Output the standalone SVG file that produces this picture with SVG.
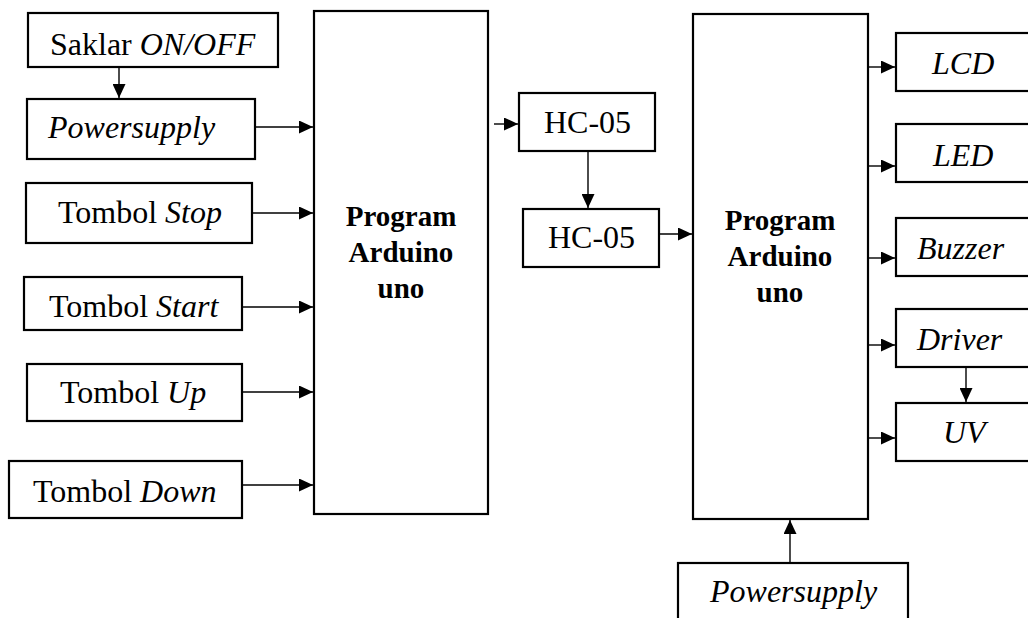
<svg xmlns="http://www.w3.org/2000/svg" width="1028" height="618" viewBox="0 0 1028 618">
<style>
.box{fill:#fff;stroke:#000;stroke-width:2.2}
.t{font-family:"Liberation Serif","Times New Roman",serif;font-size:32px;fill:#000}
.b{font-family:"Liberation Serif","Times New Roman",serif;font-size:29px;font-weight:bold;fill:#000;text-anchor:middle}
.c{stroke:#000;stroke-width:1.4;fill:none;marker-end:url(#ah)}
</style>
<defs>
<marker id="ah" markerUnits="userSpaceOnUse" markerWidth="14" markerHeight="13" refX="14" refY="6.5" orient="auto">
<path d="M0,0 L14,6.5 L0,13 Z" fill="#000"/>
</marker>
</defs>
<rect width="1028" height="618" fill="#fff"/>
<g id="saklar"><rect class="box" x="28" y="13" width="250" height="54"/><text class="t" x="50" y="55">Saklar <tspan font-style="italic">ON/OFF</tspan></text></g>
<g id="powersupply1"><rect class="box" x="27" y="99" width="228" height="60"/><text class="t" x="48" y="138" font-style="italic">Powersupply</text></g>
<g id="stop"><rect class="box" x="26" y="183" width="226" height="60"/><text class="t" x="58" y="223">Tombol <tspan font-style="italic">Stop</tspan></text></g>
<g id="start"><rect class="box" x="24" y="277" width="218" height="53"/><text class="t" x="49" y="317">Tombol <tspan font-style="italic">Start</tspan></text></g>
<g id="up"><rect class="box" x="27" y="364" width="215" height="57"/><text class="t" x="60" y="403">Tombol <tspan font-style="italic">Up</tspan></text></g>
<g id="down"><rect class="box" x="9" y="461" width="233" height="57"/><text class="t" x="33" y="502">Tombol <tspan font-style="italic">Down</tspan></text></g>
<g id="arduino1"><rect class="box" x="314" y="11" width="174" height="503"/><text class="b" x="401" y="226">Program</text><text class="b" x="401" y="262">Arduino</text><text class="b" x="401" y="298">uno</text></g>
<g id="hc05a"><rect class="box" x="519" y="93" width="136" height="58"/><text class="t" x="544" y="133">HC-05</text></g>
<g id="hc05b"><rect class="box" x="523" y="209" width="136" height="58"/><text class="t" x="548" y="248">HC-05</text></g>
<g id="arduino2"><rect class="box" x="693" y="14" width="175" height="505"/><text class="b" x="780" y="230">Program</text><text class="b" x="780" y="266">Arduino</text><text class="b" x="780" y="302">uno</text></g>
<g id="lcd"><rect class="box" x="896" y="33" width="150" height="58"/><text class="t" x="932" y="74" font-style="italic">LCD</text></g>
<g id="led"><rect class="box" x="896" y="124" width="150" height="58"/><text class="t" x="933" y="166" font-style="italic">LED</text></g>
<g id="buzzer"><rect class="box" x="896" y="218" width="150" height="58"/><text class="t" x="917" y="259" font-style="italic">Buzzer</text></g>
<g id="driver"><rect class="box" x="896" y="309" width="150" height="58"/><text class="t" x="917" y="350" font-style="italic">Driver</text></g>
<g id="uv"><rect class="box" x="896" y="403" width="150" height="58"/><text class="t" x="943" y="443" font-style="italic">UV</text></g>
<g id="powersupply2"><rect class="box" x="678" y="563" width="230" height="70"/><text class="t" x="710" y="602" font-style="italic">Powersupply</text></g>
<g id="connectors">
<line class="c" x1="119" y1="67" x2="119" y2="98"/>
<line class="c" x1="255" y1="127" x2="313" y2="127"/>
<line class="c" x1="252" y1="213" x2="313" y2="213"/>
<line class="c" x1="242" y1="307" x2="313" y2="307"/>
<line class="c" x1="242" y1="392" x2="313" y2="392"/>
<line class="c" x1="242" y1="485" x2="313" y2="485"/>
<line class="c" x1="494" y1="124" x2="518" y2="124"/>
<line class="c" x1="588" y1="151" x2="588" y2="208"/>
<line class="c" x1="659" y1="234" x2="692" y2="234"/>
<line class="c" x1="868" y1="67" x2="895" y2="67"/>
<line class="c" x1="868" y1="166" x2="895" y2="166"/>
<line class="c" x1="868" y1="258" x2="895" y2="258"/>
<line class="c" x1="868" y1="345" x2="895" y2="345"/>
<line class="c" x1="966" y1="367" x2="966" y2="402"/>
<line class="c" x1="868" y1="438" x2="895" y2="438"/>
<line class="c" x1="790" y1="563" x2="790" y2="520"/>
</g>
</svg>
